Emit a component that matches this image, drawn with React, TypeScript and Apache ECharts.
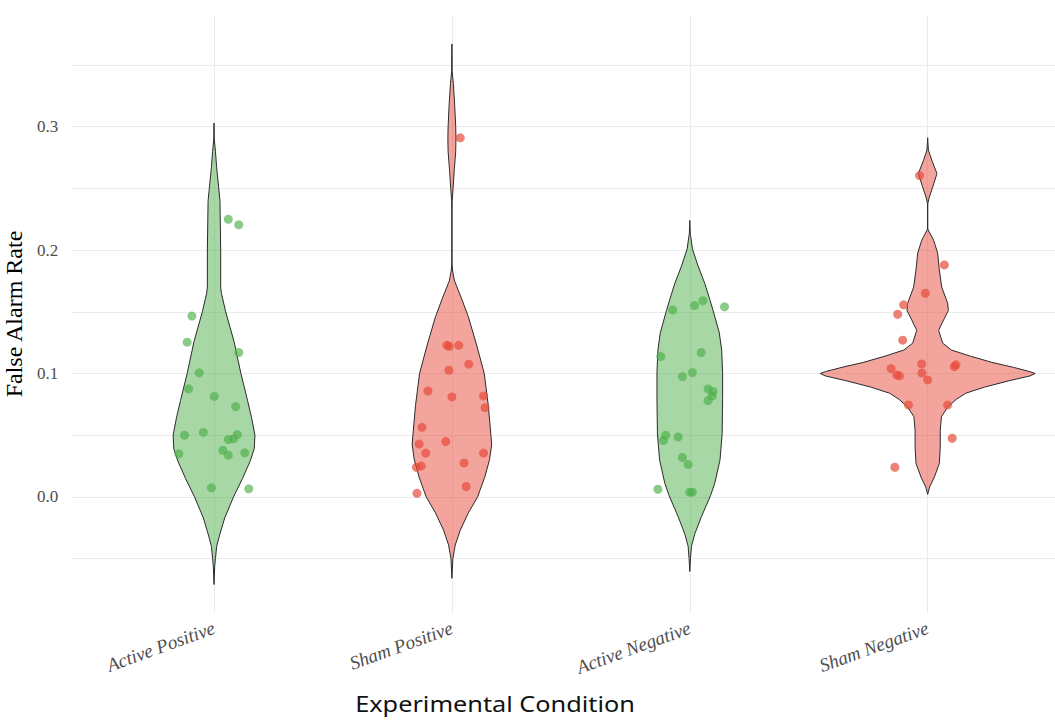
import React, { useEffect, useRef } from "react";
import * as echarts from "echarts";

// ---------- data ----------
const categories = ["Active Positive", "Sham Positive", "Active Negative", "Sham Negative"];

// Violin outlines: false-alarm-rate level and half-width (density, in category units)
const apOutlineY = [0.303, 0.29, 0.28, 0.267, 0.24, 0.2, 0.17, 0.165, 0.15, 0.126, 0.1, 0.078, 0.064, 0.05, 0.039, 0.029, 0.015, 0.0, -0.017, -0.03, -0.04, -0.05, -0.056, -0.071];
const apOutlineW = [0, 0.001, 0.006, 0.011, 0.025, 0.028, 0.028, 0.031, 0.049, 0.084, 0.113, 0.141, 0.158, 0.172, 0.169, 0.152, 0.12, 0.082, 0.045, 0.025, 0.011, 0.006, 0.003, 0];

const spOutlineY = [0.367, 0.345, 0.335, 0.32, 0.3, 0.29, 0.28, 0.265, 0.25, 0.24, 0.23, 0.19, 0.183, 0.175, 0.16, 0.146, 0.123, 0.1, 0.074, 0.05, 0.042, 0.03, 0.016, 0.0, -0.013, -0.027, -0.039, -0.05, -0.066];
const spOutlineW = [0, 0.001, 0.006, 0.011, 0.016, 0.017, 0.016, 0.01, 0.005, 0.001, 0, 0, 0.003, 0.011, 0.042, 0.069, 0.104, 0.136, 0.153, 0.164, 0.167, 0.158, 0.138, 0.108, 0.069, 0.035, 0.014, 0.004, 0];

const anOutlineY = [0.224, 0.213, 0.211, 0.201, 0.187, 0.173, 0.16, 0.151, 0.133, 0.119, 0.101, 0.079, 0.051, 0.03, 0.011, 0.001, -0.016, -0.03, -0.04, -0.05, -0.0605];
const anOutlineW = [0, 0.002, 0.004, 0.011, 0.035, 0.063, 0.084, 0.098, 0.124, 0.134, 0.138, 0.138, 0.136, 0.127, 0.105, 0.087, 0.049, 0.021, 0.007, 0.003, 0];

const snOutlineY = [0.291, 0.281, 0.273, 0.262, 0.251, 0.243, 0.238, 0.234, 0.218, 0.2164, 0.208, 0.1975, 0.184, 0.17, 0.157, 0.151, 0.1434, 0.135, 0.1246, 0.119, 0.114, 0.109, 0.105, 0.1015, 0.1, 0.098, 0.094, 0.089, 0.084, 0.079, 0.073, 0.065, 0.054, 0.041, 0.027, 0.016, 0.008, 0.002];
const snOutlineW = [0, 0.003, 0.017, 0.039, 0.021, 0.007, 0.001, 0, 0, 0.002, 0.025, 0.042, 0.049, 0.059, 0.084, 0.087, 0.067, 0.046, 0.063, 0.1, 0.18, 0.27, 0.36, 0.43, 0.452, 0.43, 0.34, 0.24, 0.16, 0.12, 0.085, 0.058, 0.053, 0.053, 0.049, 0.028, 0.008, 0];

// Individual observations (false alarm rate) and horizontal jitter offsets
const apRate = [0.225, 0.2205, 0.1465, 0.1254, 0.117, 0.1005, 0.0876, 0.0814, 0.0732, 0.05, 0.0522, 0.0465, 0.047, 0.0505, 0.0349, 0.0378, 0.0338, 0.0357, 0.0073, 0.0065];
const apJitter = [0.06, 0.104, -0.093, -0.113, 0.104, -0.062, -0.107, 0.001, 0.091, -0.124, -0.045, 0.06, 0.082, 0.098, -0.148, 0.037, 0.06, 0.129, -0.011, 0.146];

const spRate = [0.291, 0.1228, 0.122, 0.1228, 0.1075, 0.1026, 0.0858, 0.081, 0.0818, 0.0723, 0.0564, 0.0428, 0.0448, 0.0355, 0.0355, 0.024, 0.0251, 0.0275, 0.0084, 0.0029];
const spJitter = [0.035, -0.021, -0.011, 0.029, 0.071, -0.0125, -0.101, 0, 0.133, 0.139, -0.126, -0.1375, -0.026, -0.11, 0.133, -0.149, -0.129, 0.051, 0.06, -0.147];

const anRate = [0.1515, 0.155, 0.159, 0.154, 0.1137, 0.117, 0.0975, 0.1008, 0.0875, 0.0854, 0.0818, 0.078, 0.05, 0.0457, 0.0486, 0.0319, 0.0262, 0.0062, 0.0038, 0.0038];
const anJitter = [-0.072, 0.02, 0.055, 0.146, -0.122, 0.048, -0.031, 0.011, 0.077, 0.098, 0.094, 0.077, -0.101, -0.111, -0.049, -0.031, -0.007, -0.134, 0, 0.011];

const snRate = [0.2604, 0.188, 0.165, 0.1556, 0.148, 0.127, 0.104, 0.0988, 0.098, 0.1077, 0.1004, 0.0948, 0.1056, 0.107, 0.0745, 0.0745, 0.0475, 0.024];
const snJitter = [-0.034, 0.07, -0.01, -0.101, -0.126, -0.105, -0.154, -0.13, -0.119, -0.025, -0.024, 0, 0.112, 0.119, -0.081, 0.084, 0.103, -0.138];

const yLabelTicks = [0, 0.1, 0.2, 0.3];
const yGridTicks = [-0.05, 0, 0.05, 0.1, 0.15, 0.2, 0.25, 0.3, 0.35];
const xTicks = [1, 2, 3, 4];

const GREEN_FILL = "rgba(77,175,74,0.5)";
const RED_FILL = "rgba(231,76,60,0.5)";
const GREEN_PT = "rgba(77,175,74,0.82)";
const RED_PT = "rgba(231,76,60,0.88)";

export default function App() {
  const ref = useRef<HTMLDivElement>(null);

  useEffect(() => {
    if (!ref.current) return;
    const chart = echarts.init(ref.current, undefined, { renderer: "svg" });

    const violins = [
      { pos: 1, y: apOutlineY, w: apOutlineW, fill: GREEN_FILL },
      { pos: 2, y: spOutlineY, w: spOutlineW, fill: RED_FILL },
      { pos: 3, y: anOutlineY, w: anOutlineW, fill: GREEN_FILL },
      { pos: 4, y: snOutlineY, w: snOutlineW, fill: RED_FILL },
    ];

    const pts = (pos: number, rate: number[], jit: number[]) =>
      rate.map((r, i) => [pos + jit[i], r]);

    const serif = "'Liberation Serif', 'Times New Roman', serif";

    chart.setOption({
      animation: false,
      backgroundColor: "#ffffff",
      grid: {
        left: 71.3,
        right: -15.4,
        top: 15,
        bottom: 107,
        containLabel: false,
        outerBoundsMode: "none",
      },
      xAxis: {
        type: "value",
        min: 0.4,
        max: 4.6,
        axisLine: { show: false },
        axisTick: { show: false, customValues: xTicks },
        axisLabel: {
          customValues: xTicks,
          formatter: (v: number) => categories[Math.round(v) - 1] ?? "",
          rotate: 20,
          margin: 14,
          fontStyle: "italic",
          fontFamily: serif,
          fontSize: 19,
          color: "#4d4d4d",
        },
        splitLine: { show: true, lineStyle: { color: "#ebebeb", width: 1 } },
      },
      yAxis: {
        type: "value",
        min: -0.0941,
        max: 0.3905,
        name: "False Alarm Rate",
        nameLocation: "middle",
        nameGap: 37,
        nameTextStyle: { fontFamily: serif, fontSize: 24, color: "#000" },
        axisLine: { show: false },
        axisTick: { show: false, customValues: yGridTicks },
        axisLabel: {
          customValues: yLabelTicks,
          formatter: (v: number) => v.toFixed(1),
          margin: 13,
          fontFamily: serif,
          fontSize: 17,
          color: "#4d4d4d",
        },
        splitLine: { show: true, lineStyle: { color: "#ebebeb", width: 1 } },
      },
      graphic: [
        {
          type: "text",
          x: 495,
          y: 704,
          scaleX: 1.15,
          style: {
            text: "Experimental Condition",
            fontFamily: "'Noto Sans', 'Open Sans', sans-serif",
            fontSize: 22,
            fill: "#111",
            align: "center",
            verticalAlign: "middle",
          },
        },
      ],
      series: [
        {
          type: "custom",
          name: "violins",
          data: violins.map((v) => [v.pos, 0]),
          renderItem: (params: any, api: any) => {
            const v = violins[params.dataIndex];
            const right = v.y.map((y, k) => api.coord([v.pos + v.w[k], y]));
            const left = v.y.map((y, k) => api.coord([v.pos - v.w[k], y])).reverse();
            return {
              type: "polygon",
              shape: { points: right.concat(left) },
              style: { fill: v.fill, stroke: "#2b2b2b", lineWidth: 1 },
            };
          },
          z: 1,
        },
        {
          type: "scatter",
          name: "Active",
          data: [...pts(1, apRate, apJitter), ...pts(3, anRate, anJitter)],
          symbol: "circle",
          symbolSize: 9,
          itemStyle: { color: GREEN_PT },
          z: 3,
        },
        {
          type: "scatter",
          name: "Sham",
          data: [...pts(2, spRate, spJitter), ...pts(4, snRate, snJitter)],
          symbol: "circle",
          symbolSize: 9,
          itemStyle: { color: RED_PT },
          z: 3,
        },
      ],
    });

    return () => chart.dispose();
  }, []);

  return (
    <div
      ref={ref}
      style={{ position: "fixed", left: 0, top: 0, width: 1055, height: 720, background: "#fff" }}
    />
  );
}
